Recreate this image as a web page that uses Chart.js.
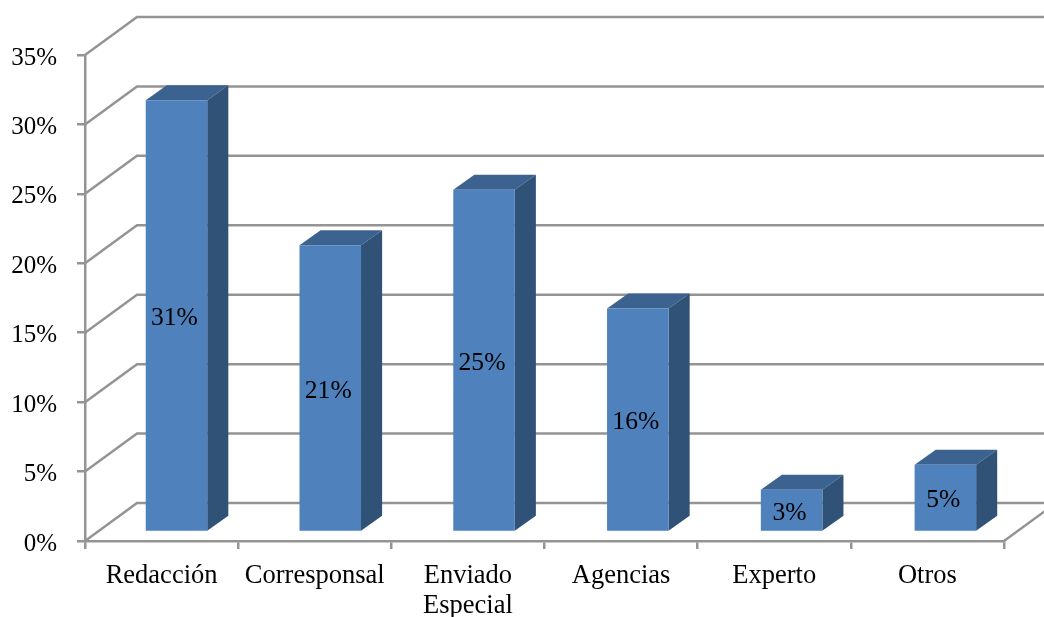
<!DOCTYPE html>
<html>
<head>
<meta charset="utf-8">
<style>
  html, body { margin: 0; padding: 0; background: #fff; overflow: hidden; }
  #wrap { width: 1044px; height: 617px; }
</style>
<script src="https://cdn.jsdelivr.net/npm/chart.js@4"></script>
</head>
<body>
<div id="wrap"><canvas id="myChart"></canvas></div>
<script>
const categories = ["Redacción", "Corresponsal", ["Enviado", "Especial"], "Agencias", "Experto", "Otros"];
const values = [31.1, 20.65, 24.65, 16.1, 3.05, 4.85];
const barLabels = ["31%", "21%", "25%", "16%", "3%", "5%"];

const wallDx = 52, wallDy = -38;   // back wall offset
const barDx = 14.25, barDy = -9;   // bars stand in the middle of the floor
const barStretch = 1.004;          // bars spread a bit wider than the axis ticks
const depthDx = 21, depthDy = -15; // bar depth
const gridColor = '#949494';
const fontName = '"Liberation Serif", serif';

// back wall and side wall lines
const wallPlugin = {
  id: 'wall',
  beforeDatasetsDraw(chart) {
    const ctx = chart.ctx, y = chart.scales.y, a = chart.chartArea;
    ctx.save();
    ctx.strokeStyle = gridColor;
    ctx.lineWidth = 2.5;
    y.ticks.forEach(t => {
      const py = y.getPixelForValue(t.value);
      ctx.beginPath();
      ctx.moveTo(a.left, py);
      ctx.lineTo(a.left + wallDx, py + wallDy);
      ctx.lineTo(a.right + wallDx, py + wallDy);
      ctx.stroke();
    });
    ctx.beginPath();
    ctx.moveTo(a.right, a.bottom);
    ctx.lineTo(a.right + wallDx, a.bottom + wallDy);
    ctx.stroke();
    ctx.restore();
  }
};

// top and side faces, front face comes from the bar itself
const bar3dPlugin = {
  id: 'bar3d',
  beforeDatasetDraw(chart, args) {
    const ctx = chart.ctx;
    ctx.save();
    ctx.transform(barStretch, 0, 0, 1, barDx, barDy);
    args.meta.data.forEach(b => {
      const l = b.x - b.width / 2, r = b.x + b.width / 2;
      ctx.fillStyle = '#3c6290';
      ctx.beginPath();
      ctx.moveTo(l, b.y);
      ctx.lineTo(l + depthDx, b.y + depthDy);
      ctx.lineTo(r + depthDx, b.y + depthDy);
      ctx.lineTo(r, b.y);
      ctx.closePath();
      ctx.fill();
      ctx.fillStyle = '#315277';
      ctx.beginPath();
      ctx.moveTo(r, b.y);
      ctx.lineTo(r + depthDx, b.y + depthDy);
      ctx.lineTo(r + depthDx, b.base + depthDy);
      ctx.lineTo(r, b.base);
      ctx.closePath();
      ctx.fill();
    });
  },
  afterDatasetDraw(chart, args) {
    const ctx = chart.ctx;
    ctx.fillStyle = '#000';
    ctx.font = '25.5px ' + fontName;
    ctx.textAlign = 'center';
    ctx.textBaseline = 'middle';
    args.meta.data.forEach((b, i) => {
      ctx.fillText(barLabels[i], b.x - 2, (b.y + b.base) / 2 + 3);
    });
    ctx.restore();
  }
};

var myChart = new Chart(document.getElementById("myChart"), {
  type: 'bar',
  data: {
    labels: categories,
    datasets: [{
      data: values,
      backgroundColor: '#4f81bd',
      barPercentage: 0.4,
      categoryPercentage: 1,
      clip: false
    }]
  },
  options: {
    responsive: true,
    maintainAspectRatio: false,
    animation: false,
    events: [],
    layout: { padding: { top: 55, right: 40, left: 0, bottom: 0 } },
    plugins: { legend: { display: false }, tooltip: { enabled: false }, title: { display: false } },
    scales: {
      x: {
        afterFit(scale) { scale.height = 76; },
        grid: { drawOnChartArea: false, color: gridColor, tickLength: 8, lineWidth: 2.5 },
        border: { color: gridColor, width: 2.5 },
        ticks: {
          color: '#000',
          font: { family: fontName, size: 26.5, lineHeight: 1.14 },
          maxRotation: 0,
          autoSkip: false,
          padding: 12
        }
      },
      y: {
        min: 0,
        max: 35,
        afterFit(scale) { scale.width = 85; },
        grid: { drawOnChartArea: false, color: gridColor, tickLength: 8, lineWidth: 2.5 },
        border: { color: gridColor, width: 2.5 },
        ticks: {
          stepSize: 5,
          color: '#000',
          font: { family: fontName, size: 25 },
          padding: 20,
          labelOffset: 3,
          callback: v => v + '%'
        }
      }
    }
  },
  plugins: [wallPlugin, bar3dPlugin]
});
</script>
</body>
</html>
